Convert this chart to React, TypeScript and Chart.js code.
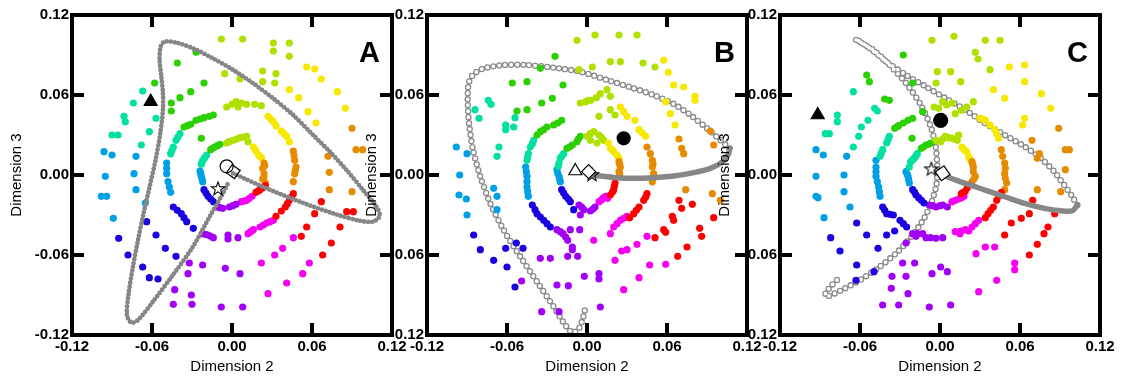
import { useEffect, useRef } from "react";
import { Chart, registerables } from "chart.js";
Chart.register(...registerables);

type P = [number, number];

const FONT = "'Liberation Sans', Arial, Helvetica, sans-serif";
const axisTicks = [-0.12, -0.06, 0, 0.06, 0.12];
const xTitle = "Dimension 2";
const yTitle = "Dimension 3";
const letters = ["A", "B", "C"];

const RED = "#ff0000";
const ORANGE = "#e68a00";
const YELLOW = "#f7e800";
const LIME = "#b0e000";
const GREEN = "#2ad000";
const TEAL = "#00e0a0";
const SKY = "#00a0e6";
const BLUE = "#1a00e0";
const PURPLE = "#a000f5";
const MAGENTA = "#f500f0";

// ---------- Panel A ----------
const aRed: P[] = [[0.025,-0.008],[0.021,-0.011],[0.018,-0.013],[0.023,-0.0095],[0.0195,-0.012],[0.046,-0.014],[0.043,-0.019],[0.040,-0.024],[0.037,-0.027],[0.033,-0.031],[0.0445,-0.0165],[0.0415,-0.0215],[0.067,-0.020],[0.062,-0.029],[0.056,-0.039],[0.052,-0.046],[0.068,-0.060],[0.0745,-0.051],[0.081,-0.039],[0.086,-0.0275],[0.091,-0.0275]];
const aOrange: P[] = [[0.024,0.009],[0.023,0.005],[0.024,0.001],[0.023,-0.003],[0.025,-0.006],[0.0245,0.007],[0.024,-0.0015],[0.046,0.018],[0.047,0.011],[0.048,0.006],[0.047,0.001],[0.046,-0.005],[0.0465,0.0145],[0.0475,0.0035],[0.090,0.035],[0.093,0.019],[0.098,0.019],[0.072,0.014],[0.073,0.002],[0.073,-0.011],[0.090,-0.0125]];
const aYellow: P[] = [[0.016,0.021],[0.018,0.018],[0.020,0.015],[0.022,0.013],[0.017,0.0195],[0.021,0.014],[0.027,0.044],[0.031,0.040],[0.033,0.037],[0.037,0.033],[0.041,0.029],[0.043,0.025],[0.029,0.042],[0.039,0.031],[0.056,0.081],[0.062,0.0795],[0.067,0.072],[0.079,0.0625],[0.085,0.050],[0.043,0.064],[0.050,0.058],[0.057,0.0475],[0.063,0.039]];
const aLime: P[] = [[-0.002,0.025],[0.001,0.026],[0.006,0.028],[0.011,0.029],[0.012,0.025],[0.0035,0.027],[0.0085,0.0285],[-0.004,0.024],[-0.004,0.051],[0.003,0.055],[0.0045,0.051],[0.011,0.053],[0.017,0.053],[0.022,0.052],[0.0,0.053],[0.007,0.054],[-0.008,0.102],[0.008,0.102],[0.031,0.099],[0.043,0.099],[0.031,0.093],[0.043,0.089],[0.023,0.078],[0.033,0.076],[0.006,0.072],[-0.0055,0.076],[0.023,0.070],[0.032,0.069]];
const aGreen: P[] = [[-0.009,0.023],[-0.013,0.021],[-0.016,0.019],[-0.011,0.022],[-0.0145,0.020],[-0.014,0.045],[-0.021,0.043],[-0.027,0.041],[-0.031,0.038],[-0.036,0.036],[-0.017,0.044],[-0.024,0.042],[-0.0335,0.037],[-0.058,0.069],[-0.0455,0.054],[-0.039,0.058],[-0.031,0.0625],[-0.021,0.069],[-0.041,0.084],[-0.027,0.092],[-0.0455,0.048],[-0.023,0.0275]];
const aTeal: P[] = [[-0.019,0.015],[-0.022,0.011],[-0.023,0.008],[-0.0205,0.013],[-0.0225,0.0095],[-0.039,0.031],[-0.042,0.026],[-0.044,0.021],[-0.046,0.016],[-0.0405,0.0285],[-0.045,0.0185],[-0.074,0.054],[-0.081,0.044],[-0.080,0.040],[-0.090,0.030],[-0.0855,0.030],[-0.068,0.0225],[-0.062,0.0325],[-0.057,0.0425],[-0.067,0.063]];
const aSky: P[] = [[-0.024,0.003],[-0.023,-0.001],[-0.022,-0.005],[-0.0235,0.001],[-0.0225,-0.003],[-0.049,0.009],[-0.049,0.001],[-0.048,-0.005],[-0.046,-0.013],[-0.049,0.005],[-0.047,-0.009],[-0.072,0.014],[-0.0735,0.001],[-0.072,-0.011],[-0.065,-0.021],[-0.089,-0.0325],[-0.094,-0.016],[-0.098,-0.016],[-0.095,-0.001],[-0.096,0.0175],[-0.090,0.015]];
const aBlue: P[] = [[-0.021,-0.011],[-0.018,-0.016],[-0.014,-0.020],[-0.0195,-0.0135],[-0.016,-0.018],[-0.044,-0.024],[-0.038,-0.029],[-0.034,-0.035],[-0.029,-0.040],[-0.041,-0.0265],[-0.036,-0.032],[-0.057,-0.045],[-0.064,-0.035],[-0.050,-0.055],[-0.042,-0.061],[-0.067,-0.069],[-0.062,-0.077],[-0.0555,-0.078],[-0.085,-0.0475],[-0.078,-0.060]];
const aPurple: P[] = [[-0.011,-0.024],[-0.007,-0.025],[-0.002,-0.024],[0.003,-0.022],[-0.009,-0.0245],[0.0005,-0.023],[-0.022,-0.044],[-0.018,-0.045],[-0.014,-0.047],[-0.003,-0.045],[0.0045,-0.047],[-0.020,-0.0445],[-0.016,-0.046],[-0.032,-0.066],[-0.022,-0.0675],[-0.005,-0.070],[0.006,-0.074],[-0.033,-0.074],[-0.043,-0.086],[-0.0305,-0.090],[-0.044,-0.097],[-0.030,-0.097],[-0.008,-0.099],[0.008,-0.099],[-0.003,-0.048]];
const aMagenta: P[] = [[0.007,-0.020],[0.011,-0.019],[0.015,-0.016],[0.009,-0.0195],[0.013,-0.0175],[0.012,-0.044],[0.016,-0.041],[0.021,-0.039],[0.026,-0.036],[0.031,-0.034],[0.014,-0.0425],[0.0235,-0.0375],[0.0285,-0.035],[0.046,-0.047],[0.038,-0.055],[0.032,-0.060],[0.022,-0.066],[0.058,-0.066],[0.053,-0.074],[0.041,-0.081],[0.027,-0.089]];
const aPath: P[] = [[0.00075,0.00125],[0.0258,-0.01],[0.0508,-0.02],[0.0758,-0.0288],[0.0958,-0.0343],[0.1058,-0.035],[0.1108,-0.0308],[0.1083,-0.0238],[0.0983,-0.0113],[0.0858,0.0038],[0.0733,0.0175],[0.0608,0.03],[0.0458,0.045],[0.0308,0.0575],[0.0158,0.0688],[0.0008,0.0788],[-0.0143,0.0875],[-0.0293,0.095],[-0.0418,0.0993],[-0.0505,0.1],[-0.0535,0.0963],[-0.0543,0.0863],[-0.053,0.0738],[-0.0518,0.0613],[-0.0518,0.0488],[-0.0538,0.0313],[-0.0573,0.0113],[-0.0618,-0.0088],[-0.0663,-0.0288],[-0.0705,-0.0488],[-0.0743,-0.0688],[-0.0775,-0.0888],[-0.0788,-0.105],[-0.0755,-0.1108],[-0.0705,-0.1088],[-0.0593,-0.095],[-0.0443,-0.075],[-0.0293,-0.0538],[-0.0168,-0.0313],[-0.0068,-0.0138],[-0.0023,-0.005]];
const aTriangle: P[] = [[-0.061, 0.055]];
const aCircle: P[] = [[-0.004, 0.0065]];
const aSquare: P[] = [[0.001, 0.0025]];
const aStar: P[] = [[-0.0105, -0.0105]];

// ---------- Panel B ----------
const bRed: P[] = [[0.021,-0.006],[0.020,-0.011],[0.0175,-0.015],[0.0205,-0.0085],[0.019,-0.013],[0.045,-0.014],[0.0425,-0.019],[0.039,-0.024],[0.035,-0.029],[0.032,-0.032],[0.044,-0.0165],[0.037,-0.0265],[0.069,-0.019],[0.071,-0.025],[0.064,-0.031],[0.065,-0.034],[0.0575,-0.041],[0.059,-0.043],[0.051,-0.047],[0.0845,-0.040],[0.086,-0.046],[0.095,-0.032],[0.075,-0.054],[0.068,-0.061],[0.079,-0.022]];
const bOrange: P[] = [[0.024,0.010],[0.025,0.006],[0.024,0.0025],[0.0245,-0.001],[0.0245,0.008],[0.0245,0.001],[0.045,0.021],[0.0475,0.016],[0.049,0.011],[0.049,0.006],[0.050,0.001],[0.049,-0.005],[0.0495,0.0085],[0.0495,-0.002],[0.0925,0.033],[0.095,0.0225],[0.069,0.027],[0.071,0.020],[0.0725,0.016],[0.074,-0.011],[0.094,-0.014],[0.100,-0.019]];
const bYellow: P[] = [[0.016,0.024],[0.0175,0.020],[0.020,0.0175],[0.0225,0.015],[0.024,0.0125],[0.019,0.019],[0.023,0.014],[0.025,0.051],[0.030,0.044],[0.036,0.041],[0.039,0.034],[0.044,0.029],[0.0275,0.0475],[0.0415,0.0315],[0.0575,0.086],[0.061,0.077],[0.0725,0.066],[0.081,0.059],[0.081,0.056],[0.059,0.055],[0.0625,0.046],[0.066,0.0375],[0.065,0.0675]];
const bLime: P[] = [[0.005,0.0325],[0.009,0.030],[0.0,0.029],[0.0025,0.026],[0.0075,0.024],[0.0125,0.026],[0.0025,0.031],[0.011,0.028],[-0.005,0.054],[0.003,0.056],[0.010,0.061],[0.0175,0.049],[0.021,0.045],[0.009,0.044],[-0.001,0.055],[0.007,0.058],[-0.0075,0.101],[0.006,0.105],[0.024,0.105],[0.0375,0.105],[0.0175,0.085],[0.025,0.085],[0.042,0.084],[0.051,0.081],[-0.006,0.079],[0.004,0.081],[0.015,0.064],[0.0175,0.059],[0.001,0.056]];
const bGreen: P[] = [[-0.005,0.029],[-0.0075,0.025],[-0.011,0.0225],[-0.015,0.020],[-0.0065,0.027],[-0.013,0.021],[-0.019,0.041],[-0.025,0.0375],[-0.030,0.036],[-0.035,0.0325],[-0.0375,0.030],[-0.022,0.039],[-0.0325,0.034],[-0.056,0.069],[-0.045,0.070],[-0.024,0.089],[-0.035,0.080],[-0.018,0.0675],[-0.034,0.054],[-0.026,0.0575],[-0.045,0.049],[-0.0525,0.048]];
const bTeal: P[] = [[-0.0175,0.016],[-0.020,0.0125],[-0.021,0.009],[-0.019,0.014],[-0.0215,0.0065],[-0.040,0.026],[-0.0425,0.021],[-0.044,0.016],[-0.045,0.011],[-0.041,0.0235],[-0.0445,0.0135],[-0.084,0.049],[-0.081,0.0425],[-0.074,0.056],[-0.072,0.053],[-0.061,0.0375],[-0.061,0.034],[-0.066,0.021],[-0.0675,0.014],[-0.054,0.043],[-0.055,0.036]];
const bSky: P[] = [[-0.0225,0.004],[-0.021,-0.001],[-0.020,-0.005],[-0.022,0.0015],[-0.0205,-0.003],[-0.046,0.006],[-0.045,-0.001],[-0.045,-0.009],[-0.044,-0.016],[-0.0455,0.0025],[-0.045,-0.005],[-0.0445,-0.0125],[-0.098,0.021],[-0.0955,0.0],[-0.090,0.016],[-0.096,-0.015],[-0.0905,-0.018],[-0.090,-0.030],[-0.070,-0.010],[-0.0675,-0.016],[-0.0675,-0.026]];
const bBlue: P[] = [[-0.019,-0.011],[-0.016,-0.016],[-0.0125,-0.020],[-0.010,-0.026],[-0.0175,-0.0135],[-0.014,-0.018],[-0.041,-0.0225],[-0.0375,-0.029],[-0.0325,-0.034],[-0.0275,-0.039],[-0.039,-0.026],[-0.035,-0.0315],[-0.030,-0.0365],[-0.054,-0.084],[-0.060,-0.069],[-0.070,-0.064],[-0.085,-0.045],[-0.080,-0.056],[-0.061,-0.055],[-0.053,-0.051],[-0.048,-0.055]];
const bPurple: P[] = [[-0.006,-0.0225],[-0.0025,-0.026],[0.0025,-0.027],[0.006,-0.024],[-0.005,-0.030],[-0.004,-0.024],[0.0045,-0.0255],[-0.0225,-0.041],[-0.018,-0.044],[-0.0145,-0.049],[-0.011,-0.054],[-0.0055,-0.041],[-0.0125,-0.041],[-0.020,-0.0425],[-0.016,-0.0465],[0.009,-0.074],[0.009,-0.078],[-0.002,-0.076],[-0.007,-0.061],[-0.011,-0.056],[-0.0145,-0.061],[-0.0225,-0.0825],[-0.014,-0.083],[-0.021,-0.1025],[-0.034,-0.1025],[0.010,-0.099],[-0.0275,-0.0625],[-0.035,-0.0625],[-0.049,-0.0795]];
const bMagenta: P[] = [[0.009,-0.020],[0.0125,-0.017],[0.0155,-0.0175],[0.011,-0.0185],[0.014,-0.016],[0.005,-0.049],[0.0175,-0.044],[0.020,-0.039],[0.025,-0.034],[0.030,-0.031],[0.0225,-0.0365],[0.0275,-0.0325],[0.030,-0.056],[0.0375,-0.052],[0.045,-0.046],[0.021,-0.064],[0.026,-0.057],[0.0275,-0.086],[0.039,-0.077],[0.047,-0.0675],[0.059,-0.067]];
const bDense: P[] = [[0.003,0],[0.02,-0.0018],[0.035,-0.0025],[0.05,-0.002],[0.065,-0.0008],[0.08,0.0018],[0.0925,0.005],[0.101,0.0095],[0.1058,0.015],[0.107,0.02]];
const bChain: P[] = [[0.107,0.02],[0.1,0.0263],[0.09,0.035],[0.0775,0.045],[0.065,0.0533],[0.05,0.06],[0.0325,0.0658],[0.015,0.0713],[-0.005,0.0775],[-0.025,0.0805],[-0.045,0.0825],[-0.0625,0.0825],[-0.0775,0.08],[-0.085,0.0758],[-0.0888,0.0688],[-0.0895,0.0563],[-0.0885,0.0388],[-0.0855,0.0188],[-0.08,-0.0013],[-0.0725,-0.0213],[-0.0625,-0.0413],[-0.05,-0.0613],[-0.0375,-0.08],[-0.025,-0.0988],[-0.0163,-0.1125],[-0.011,-0.1183],[-0.0065,-0.1158],[-0.0035,-0.109],[-0.0013,-0.1]];
const bTriangleOpen: P[] = [[-0.0088, 0.003]];
const bDiamond: P[] = [[0.0012, 0.0025]];
const bStar: P[] = [[0.0037, 0.0]];
const bDot: P[] = [[0.0275, 0.0275]];

// ---------- Panel C ----------
const cRed: P[] = [[0.0215,-0.0075],[0.019,-0.012],[0.016,-0.014],[0.0205,-0.0095],[0.0175,-0.013],[0.046,-0.013],[0.0425,-0.019],[0.040,-0.024],[0.036,-0.029],[0.034,-0.032],[0.044,-0.016],[0.038,-0.0265],[0.0695,-0.019],[0.067,-0.029],[0.061,-0.0325],[0.0535,-0.036],[0.0485,-0.045],[0.081,-0.039],[0.078,-0.044],[0.073,-0.052],[0.067,-0.060],[0.086,-0.029]];
const cOrange: P[] = [[0.024,0.010],[0.025,0.006],[0.025,0.0025],[0.0265,-0.001],[0.024,-0.005],[0.0245,0.008],[0.0255,-0.003],[0.046,0.019],[0.0485,0.009],[0.0485,0.001],[0.050,-0.006],[0.0485,-0.011],[0.047,0.014],[0.049,0.005],[0.049,-0.0025],[0.089,0.035],[0.094,0.019],[0.097,0.019],[0.0745,0.016],[0.073,0.0125],[0.069,0.026],[0.094,0.004],[0.0905,-0.0125],[0.073,-0.011]];
const cYellow: P[] = [[0.0165,0.021],[0.020,0.0175],[0.0215,0.014],[0.023,0.011],[0.018,0.019],[0.022,0.0125],[0.030,0.0425],[0.034,0.041],[0.041,0.034],[0.044,0.0275],[0.032,0.042],[0.0375,0.0375],[0.0425,0.031],[0.052,0.081],[0.0635,0.0825],[0.0635,0.070],[0.076,0.061],[0.083,0.050],[0.062,0.0375],[0.0635,0.0425],[0.0485,0.0575],[0.040,0.064]];
const cLime: P[] = [[-0.003,0.026],[0.0005,0.025],[0.004,0.029],[0.009,0.0275],[0.013,0.026],[0.014,0.030],[0.002,0.027],[0.0065,0.028],[0.011,0.027],[-0.0045,0.051],[-0.001,0.050],[0.009,0.054],[0.0115,0.046],[0.020,0.051],[0.025,0.055],[0.002,0.055],[0.005,0.0525],[0.016,0.0485],[-0.006,0.101],[0.0105,0.104],[0.034,0.101],[0.045,0.101],[0.0265,0.092],[0.0285,0.087],[0.0375,0.079],[-0.002,0.0775],[0.008,0.0775],[0.0155,0.070],[-0.003,0.069]];
const cGreen: P[] = [[-0.007,0.024],[-0.0105,0.0225],[-0.014,0.020],[-0.0085,0.023],[-0.0125,0.021],[-0.0205,0.0425],[-0.0275,0.039],[-0.031,0.037],[-0.034,0.035],[-0.024,0.041],[-0.0325,0.036],[-0.0275,0.090],[-0.055,0.075],[-0.053,0.070],[-0.0415,0.057],[-0.038,0.056],[-0.0205,0.069],[-0.021,0.0275],[-0.013,0.0475]];
const cTeal: P[] = [[-0.017,0.016],[-0.019,0.013],[-0.022,0.010],[-0.023,0.006],[-0.018,0.0145],[-0.0205,0.0115],[-0.038,0.029],[-0.040,0.024],[-0.043,0.019],[-0.045,0.014],[-0.039,0.0265],[-0.044,0.0165],[-0.077,0.045],[-0.077,0.040],[-0.086,0.031],[-0.083,0.031],[-0.065,0.0625],[-0.049,0.050],[-0.047,0.048],[-0.054,0.041],[-0.059,0.036],[-0.061,0.029],[-0.065,0.021]];
const cSky: P[] = [[-0.0255,0.0025],[-0.024,-0.001],[-0.023,-0.006],[-0.0245,0.0005],[-0.0235,-0.0035],[-0.048,0.011],[-0.048,0.006],[-0.048,-0.001],[-0.046,-0.009],[-0.045,-0.016],[-0.048,0.0025],[-0.047,-0.005],[-0.0455,-0.0125],[-0.093,0.019],[-0.0875,0.015],[-0.093,-0.001],[-0.093,-0.016],[-0.0915,-0.017],[-0.087,-0.032],[-0.070,0.014],[-0.072,0.0],[-0.072,-0.0125],[-0.0675,-0.024]];
const cBlue: P[] = [[-0.0205,-0.011],[-0.018,-0.015],[-0.014,-0.019],[-0.012,-0.021],[-0.019,-0.013],[-0.016,-0.017],[-0.043,-0.024],[-0.040,-0.029],[-0.035,-0.030],[-0.030,-0.034],[-0.025,-0.039],[-0.0415,-0.0265],[-0.0375,-0.0295],[-0.0275,-0.0365],[-0.0625,-0.036],[-0.055,-0.045],[-0.0465,-0.055],[-0.034,-0.042],[-0.075,-0.057],[-0.082,-0.047],[-0.0625,-0.0675],[-0.063,-0.079],[-0.0495,-0.0725],[-0.040,-0.045]];
const cPurple: P[] = [[-0.008,-0.0225],[-0.003,-0.024],[0.002,-0.0225],[0.0055,-0.024],[-0.0055,-0.023],[0.0,-0.023],[-0.0205,-0.044],[-0.013,-0.044],[-0.003,-0.0475],[0.002,-0.047],[-0.0105,-0.047],[-0.017,-0.044],[-0.007,-0.047],[-0.0255,-0.051],[-0.018,-0.046],[-0.028,-0.066],[-0.019,-0.066],[0.0005,-0.069],[0.0055,-0.0725],[-0.006,-0.074],[-0.036,-0.076],[-0.0255,-0.076],[-0.0365,-0.085],[-0.024,-0.089],[-0.043,-0.0975],[-0.031,-0.0975],[-0.008,-0.099],[0.008,-0.0975]];
const cMagenta: P[] = [[0.009,-0.020],[0.014,-0.018],[0.018,-0.016],[0.0115,-0.019],[0.016,-0.017],[0.0115,-0.0425],[0.019,-0.041],[0.024,-0.039],[0.029,-0.034],[0.0215,-0.042],[0.0155,-0.042],[0.0265,-0.0365],[0.027,-0.059],[0.034,-0.054],[0.041,-0.054],[0.056,-0.066],[0.056,-0.071],[0.0425,-0.079],[0.029,-0.0875],[0.015,-0.044]];
const cDense: P[] = [[0.002,0.0013],[0.0054,-0.0013],[0.019,-0.0063],[0.0338,-0.0113],[0.0486,-0.0163],[0.0635,-0.0213],[0.0783,-0.025],[0.0906,-0.0268],[0.0993,-0.0268],[0.103,-0.0225]];
const cChain: P[] = [[0.103,-0.0225],[0.0993,-0.0163],[0.0931,-0.0075],[0.0857,0.0025],[0.0758,0.0125],[0.0635,0.0213],[0.0486,0.03],[0.0338,0.0388],[0.019,0.0488],[0.0042,0.0575],[-0.0106,0.0663],[-0.0254,0.075],[-0.0402,0.085],[-0.0526,0.095],[-0.0612,0.1008],[-0.0637,0.1018],[-0.0501,0.0938],[-0.0378,0.0825],[-0.0254,0.0688],[-0.0143,0.0525],[-0.0069,0.0363],[-0.0032,0.0213],[-0.002,0.0063],[-0.0027,-0.0075],[-0.0062,-0.02],[-0.0119,-0.0325],[-0.0205,-0.045],[-0.0316,-0.0575],[-0.0452,-0.0688],[-0.06,-0.0788],[-0.0748,-0.0868],[-0.0852,-0.0913],[-0.0859,-0.0888],[-0.081,-0.0825],[-0.0748,-0.0763]];
const cTriangle: P[] = [[-0.0917, 0.045]];
const cDot: P[] = [[0.0005, 0.041]];
const cStar: P[] = [[-0.0065, 0.0043]];
const cDiamond: P[] = [[0.002, 0.0013]];

// ---------- helpers ----------
const toXY = (pts: P[]) => pts.map(([x, y]) => ({ x, y }));
const fmt = (v: number | string) => {
  const n = Number(v);
  return (Math.abs(n) < 1e-9 ? 0 : n).toFixed(2);
};

function makeStar(): HTMLCanvasElement {
  const size = 18;
  const c = document.createElement("canvas");
  c.width = size;
  c.height = size;
  const g = c.getContext("2d")!;
  g.beginPath();
  for (let i = 0; i < 10; i++) {
    const r = i % 2 === 0 ? 7 : 2.9;
    const a = -Math.PI / 2 + (i * Math.PI) / 5;
    const px = size / 2 + r * Math.cos(a);
    const py = size / 2 + r * Math.sin(a);
    if (i === 0) g.moveTo(px, py);
    else g.lineTo(px, py);
  }
  g.closePath();
  g.strokeStyle = "#000";
  g.lineWidth = 1.1;
  g.stroke();
  return c;
}

type Marker = { pts: P[]; style: any; radius: number; fill: string; rotation?: number };
type Spec = {
  letter: string;
  groups: [P[], string][];
  dotted?: P[];
  dense?: P[];
  chain?: P[];
  markers: Marker[];
  width: number;
};

const PLOT = 320;
const AXIS_W = 72;
const AXIS_H = 42;
const TOP = 15;

function framePlugin(letter: string) {
  return {
    id: "frame" + letter,
    afterDraw(chart: any) {
      const { ctx, chartArea } = chart;
      const { left, right, top, bottom } = chartArea;
      const xs = chart.scales.x;
      const ys = chart.scales.y;
      ctx.save();
      ctx.strokeStyle = "#000";
      ctx.lineWidth = 4;
      ctx.lineCap = "butt";
      ctx.strokeRect(left, top, right - left, bottom - top);
      const L = 12;
      ctx.beginPath();
      for (const v of axisTicks) {
        const px = xs.getPixelForValue(v);
        ctx.moveTo(px, bottom);
        ctx.lineTo(px, bottom - L);
        ctx.moveTo(px, top);
        ctx.lineTo(px, top + L);
        const py = ys.getPixelForValue(v);
        ctx.moveTo(left, py);
        ctx.lineTo(left + L, py);
        ctx.moveTo(right, py);
        ctx.lineTo(right - L, py);
      }
      ctx.stroke();
      ctx.fillStyle = "#000";
      ctx.font = `bold 29px ${FONT}`;
      ctx.textAlign = "right";
      ctx.textBaseline = "alphabetic";
      ctx.fillText(letter, right - 12, top + 47);
      ctx.restore();
    },
  };
}

function buildConfig(spec: Spec): any {
  const datasets: any[] = [];
  const pointOrder = 3;
  for (const [pts, color] of spec.groups) {
    datasets.push({
      data: toXY(pts),
      backgroundColor: color,
      borderWidth: 0,
      pointRadius: 3.6,
      pointHoverRadius: 3.6,
      order: pointOrder,
    });
  }
  if (spec.dotted) {
    datasets.push({
      data: toXY(spec.dotted),
      showLine: true,
      pointRadius: 0,
      borderColor: "#868686",
      borderWidth: 4.8,
      borderDash: [0, 4],
      borderCapStyle: "round",
      tension: 0.3,
      order: 2,
    });
  }
  if (spec.chain) {
    datasets.push({
      data: toXY(spec.chain),
      showLine: true,
      pointRadius: 0,
      borderColor: "#8c8c8c",
      borderWidth: 6.4,
      borderDash: [0, 6],
      borderCapStyle: "round",
      tension: 0.22,
      order: 6,
    });
    datasets.push({
      data: toXY(spec.chain),
      showLine: true,
      pointRadius: 0,
      borderColor: "#ffffff",
      borderWidth: 3.8,
      borderDash: [0, 6],
      borderCapStyle: "round",
      tension: 0.22,
      order: 5,
    });
  }
  if (spec.dense) {
    datasets.push({
      data: toXY(spec.dense),
      showLine: true,
      pointRadius: 0,
      borderColor: "#878787",
      borderWidth: 5.5,
      borderCapStyle: "round",
      tension: 0.3,
      order: 2,
    });
  }
  spec.markers.forEach((m, i) => {
    datasets.push({
      data: toXY(m.pts),
      pointStyle: m.style,
      pointRadius: m.radius,
      pointHoverRadius: m.radius,
      pointRotation: m.rotation ?? 0,
      backgroundColor: m.fill,
      borderColor: "#000",
      borderWidth: 1.2,
      order: 1 - i * 0.01,
    });
  });

  const tickFont = { family: FONT, size: 15, weight: "bold" as const };
  const titleFont = { family: FONT, size: 15, weight: "normal" as const };
  const common = {
    type: "linear",
    min: -0.12,
    max: 0.12,
    afterBuildTicks: (s: any) => {
      s.ticks = axisTicks.map((v) => ({ value: v }));
    },
    grid: { display: false, drawTicks: false },
    border: { display: false },
  };

  return {
    type: "scatter",
    data: { datasets },
    options: {
      responsive: false,
      animation: false,
      events: [],
      layout: { padding: { left: 0, top: TOP, right: spec.width - AXIS_W - PLOT, bottom: 0 } },
      plugins: { legend: { display: false }, tooltip: { enabled: false } },
      scales: {
        x: {
          ...common,
          position: "bottom",
          afterFit: (s: any) => {
            s.height = AXIS_H;
          },
          ticks: { padding: 3, color: "#000", font: tickFont, callback: fmt, maxRotation: 0, autoSkip: false },
          title: { display: true, text: xTitle, color: "#000", font: titleFont, padding: { top: 0, bottom: 1 } },
        },
        y: {
          ...common,
          position: "left",
          afterFit: (s: any) => {
            s.width = AXIS_W;
          },
          ticks: { padding: 3, color: "#000", font: tickFont, callback: fmt, autoSkip: false },
          title: { display: true, text: yTitle, color: "#000", font: titleFont, padding: { top: 8, bottom: 0 } },
        },
      },
    },
    plugins: [framePlugin(spec.letter)],
  };
}

function Panel({ left, spec }: { left: number; spec: () => Spec }) {
  const ref = useRef<HTMLCanvasElement>(null);
  const s = spec();
  useEffect(() => {
    const chart = new Chart(ref.current!, buildConfig(spec()));
    return () => chart.destroy();
  }, []);
  return (
    <canvas
      ref={ref}
      width={s.width}
      height={377}
      style={{ position: "absolute", left, top: 0, width: s.width, height: 377 }}
    />
  );
}

const specA = (): Spec => ({
  letter: letters[0],
  width: 420,
  groups: [[aRed, RED], [aOrange, ORANGE], [aYellow, YELLOW], [aLime, LIME], [aGreen, GREEN], [aTeal, TEAL], [aSky, SKY], [aBlue, BLUE], [aPurple, PURPLE], [aMagenta, MAGENTA]],
  dotted: aPath,
  markers: [
    { pts: aTriangle, style: "triangle", radius: 7.5, fill: "#000" },
    { pts: aCircle, style: "circle", radius: 6.5, fill: "#ffffff" },
    { pts: aSquare, style: "rect", radius: 7, fill: "rgba(255,255,255,0)", rotation: 35 },
    { pts: aStar, style: makeStar(), radius: 9, fill: "rgba(0,0,0,0)" },
  ],
});

const specB = (): Spec => ({
  letter: letters[1],
  width: 420,
  groups: [[bRed, RED], [bOrange, ORANGE], [bYellow, YELLOW], [bLime, LIME], [bGreen, GREEN], [bTeal, TEAL], [bSky, SKY], [bBlue, BLUE], [bPurple, PURPLE], [bMagenta, MAGENTA]],
  dense: bDense,
  chain: bChain,
  markers: [
    { pts: bDot, style: "circle", radius: 6.5, fill: "#000" },
    { pts: bTriangleOpen, style: "triangle", radius: 7.5, fill: "#ffffff" },
    { pts: bStar, style: makeStar(), radius: 9, fill: "rgba(0,0,0,0)" },
    { pts: bDiamond, style: "rectRot", radius: 7, fill: "#ffffff" },
  ],
});

const specC = (): Spec => ({
  letter: letters[2],
  width: 414,
  groups: [[cRed, RED], [cOrange, ORANGE], [cYellow, YELLOW], [cLime, LIME], [cGreen, GREEN], [cTeal, TEAL], [cSky, SKY], [cBlue, BLUE], [cPurple, PURPLE], [cMagenta, MAGENTA]],
  dense: cDense,
  chain: cChain,
  markers: [
    { pts: cTriangle, style: "triangle", radius: 7.5, fill: "#000" },
    { pts: cDot, style: "circle", radius: 7, fill: "#000" },
    { pts: cDiamond, style: "rectRot", radius: 7.5, fill: "#ffffff", rotation: 10 },
    { pts: cStar, style: makeStar(), radius: 9, fill: "rgba(0,0,0,0)" },
  ],
});

export default function App() {
  return (
    <div style={{ position: "absolute", left: 0, top: 0, width: 1122, height: 377, overflow: "hidden", background: "#fff" }}>
      <Panel left={0} spec={specA} />
      <Panel left={355} spec={specB} />
      <Panel left={708} spec={specC} />
    </div>
  );
}
